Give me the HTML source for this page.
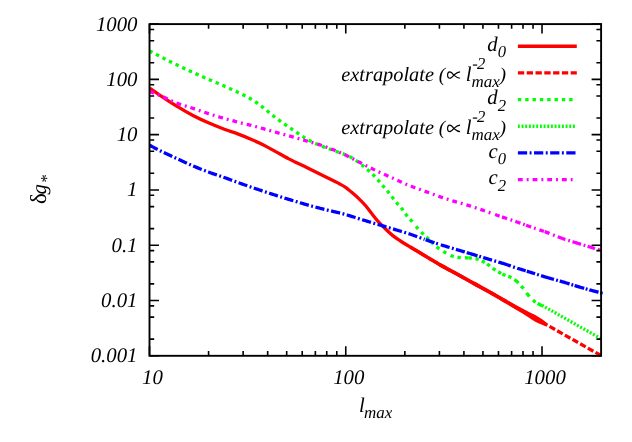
<!DOCTYPE html>
<html><head><meta charset="utf-8"><title>plot</title>
<style>html,body{margin:0;padding:0;background:#fff;}svg{display:block;will-change:transform;}text{font-family:"Liberation Serif",serif;font-style:italic;fill:#000;text-rendering:geometricPrecision;}.up{font-style:normal;}</style></head><body>
<svg width="632" height="442" viewBox="0 0 632 442">
<clipPath id="cp"><rect x="149.50" y="24.10" width="453.50" height="332.70"/></clipPath>
<g clip-path="url(#cp)" stroke-linecap="butt" stroke-linejoin="round">
<path d="M149.50,88.00 C151.38,89.30 156.27,92.78 160.80,95.80 C165.33,98.82 171.42,102.87 176.70,106.10 C181.98,109.33 187.22,112.42 192.50,115.20 C197.78,117.98 202.98,120.42 208.40,122.80 C213.82,125.18 220.12,127.65 225.00,129.50 C229.88,131.35 233.48,132.32 237.70,133.90 C241.92,135.48 246.08,137.20 250.30,139.00 C254.52,140.80 258.78,142.60 263.00,144.70 C267.22,146.80 271.38,149.28 275.60,151.60 C279.82,153.92 285.07,156.88 288.30,158.60 C291.53,160.32 291.77,160.33 295.00,161.90 C298.23,163.47 303.48,165.93 307.70,168.00 C311.92,170.07 316.08,172.20 320.30,174.30 C324.52,176.40 329.83,179.03 333.00,180.60 C336.17,182.17 337.20,182.58 339.30,183.70 C341.40,184.82 343.48,185.82 345.60,187.30 C347.72,188.78 349.88,190.80 352.00,192.60 C354.12,194.40 355.98,195.87 358.30,198.10 C360.62,200.33 363.63,203.38 365.90,206.00 C368.17,208.62 369.83,211.18 371.90,213.80 C373.97,216.42 376.18,219.33 378.30,221.70 C380.42,224.07 382.23,225.72 384.60,228.00 C386.97,230.28 389.85,233.23 392.50,235.40 C395.15,237.57 397.85,239.25 400.50,241.00 C403.15,242.75 405.77,244.30 408.40,245.90 C411.03,247.50 413.53,248.95 416.30,250.60 C419.07,252.25 420.92,253.37 425.00,255.80 C429.08,258.23 435.52,262.18 440.80,265.20 C446.08,268.22 451.42,270.98 456.70,273.90 C461.98,276.82 467.22,279.78 472.50,282.70 C477.78,285.62 484.43,289.20 488.40,291.40 C492.37,293.60 491.87,293.35 496.30,295.90 C500.73,298.45 509.25,303.38 515.00,306.70 C520.75,310.02 526.32,313.23 530.80,315.80 C535.28,318.37 540.05,321.05 541.90,322.10" fill="none" stroke="#ff0000" stroke-width="3.30"/>
<path d="M410.00,246.86 L410.36,247.08 L411.00,247.46 L411.65,247.85 L412.30,248.23 L412.95,248.62 L413.61,249.00 L414.27,249.39 L414.94,249.79 L415.61,250.19 L416.30,250.60 L416.97,251.00 L417.62,251.39 L418.25,251.77 L418.88,252.14 L419.51,252.52 L420.16,252.91 L420.83,253.31 L421.54,253.74 L422.31,254.19 L423.13,254.68 L424.02,255.22 L425.00,255.80 L426.07,256.44 L427.22,257.13 L428.45,257.87 L429.74,258.65 L431.07,259.45 L432.45,260.28 L433.85,261.12 L435.26,261.96 L436.68,262.80 L438.08,263.63 L439.46,264.43 L440.80,265.20 L442.12,265.95 L443.45,266.69 L444.77,267.42 L445.00,267.55" fill="none" stroke="#ff0000" stroke-width="3.45"/>
<path d="M440.00,264.74 L440.80,265.20 L442.12,265.95 L443.45,266.69 L444.77,267.42 L446.10,268.15 L447.42,268.87 L448.75,269.59 L450.08,270.30 L451.40,271.02 L452.73,271.73 L454.05,272.45 L455.38,273.17 L456.70,273.90 L458.02,274.63 L459.34,275.36 L460.65,276.10 L461.97,276.83 L463.29,277.56 L464.60,278.30 L465.91,279.04 L467.23,279.77 L468.55,280.50 L469.86,281.24 L471.18,281.97 L472.50,282.70 L473.85,283.44 L475.24,284.20 L476.66,284.98 L478.00,285.71" fill="none" stroke="#ff0000" stroke-width="3.60"/>
<path d="M474.00,283.53 L475.24,284.20 L476.66,284.98 L478.09,285.76 L479.52,286.54 L480.94,287.32 L482.34,288.08 L483.69,288.81 L484.99,289.52 L486.21,290.19 L487.35,290.82 L488.40,291.40 L489.30,291.90 L490.05,292.32 L490.68,292.67 L491.23,292.98 L491.71,293.25 L492.18,293.52 L492.65,293.79 L493.16,294.09 L493.75,294.43 L494.45,294.83 L495.29,295.32 L496.30,295.90 L497.49,296.58 L498.83,297.36 L500.28,298.20 L501.84,299.10 L503.47,300.04 L505.16,301.01 L506.00,301.50" fill="none" stroke="#ff0000" stroke-width="3.80"/>
<polygon points="499.20,299.39 505.98,303.74 515.20,309.21 522.10,313.34 527.59,316.72 532.01,319.78 535.68,322.00 539.58,323.84 542.61,325.01 545.65,326.17 547.28,323.34 544.72,321.34 542.16,319.34 538.60,316.93 534.83,314.87 529.98,312.56 524.30,309.51 517.26,305.63 507.89,300.41 500.73,296.72" fill="#ff0000"/>
<path d="M541.90,322.10 L601.10,355.60" fill="none" stroke="#ff0000" stroke-width="3.30" stroke-dasharray="6.30,2.50"/>
<path d="M149.50,50.90 L150.48,51.41 L151.71,52.06 L153.16,52.82 L154.78,53.67 L156.55,54.60 L158.41,55.58 L160.35,56.59 L162.31,57.61 L164.26,58.63 L166.17,59.61 L167.99,60.54 L169.70,61.40 L171.32,62.21 L172.91,63.00 L174.49,63.77 L176.05,64.53 L177.61,65.28 L179.16,66.03 L180.71,66.77 L182.27,67.50 L183.84,68.24 L185.44,68.99 L187.05,69.74 L188.70,70.50 L190.37,71.27 L192.07,72.04 L193.79,72.82 L195.52,73.59 L197.27,74.37 L199.02,75.15 L200.79,75.93 L202.56,76.71 L204.32,77.48 L206.09,78.26 L207.85,79.03 L209.60,79.80 L211.35,80.56 L213.12,81.33 L214.89,82.08 L216.67,82.84 L218.44,83.60 L220.22,84.35 L221.99,85.10 L223.74,85.86 L225.49,86.62 L227.21,87.37 L228.92,88.14 L230.60,88.90 L232.28,89.67 L233.97,90.46 L235.67,91.25 L237.37,92.05 L239.05,92.85 L240.71,93.64 L242.34,94.44 L243.92,95.22 L245.45,95.99 L246.91,96.75 L248.30,97.48 L249.60,98.20 L250.79,98.88 L251.86,99.51 L252.84,100.10 L253.74,100.67 L254.58,101.23 L255.39,101.79 L256.20,102.36 L257.01,102.95 L257.85,103.58 L258.75,104.26 L259.73,104.99 L260.80,105.80 L261.96,106.68 L263.18,107.64 L264.45,108.65 L265.76,109.71 L267.10,110.81 L268.46,111.93 L269.84,113.06 L271.23,114.20 L272.62,115.32 L274.00,116.42 L275.36,117.48 L276.70,118.50 L278.02,119.48 L279.34,120.45 L280.65,121.41 L281.97,122.35 L283.29,123.28 L284.60,124.20 L285.91,125.11 L287.23,126.02 L288.55,126.92 L289.86,127.81 L291.18,128.71 L292.50,129.60 L293.82,130.50 L295.15,131.40 L296.47,132.30 L297.80,133.21 L299.12,134.11 L300.45,134.99 L301.78,135.87 L303.10,136.73 L304.43,137.56 L305.75,138.37 L307.08,139.15 L308.40,139.90 L309.70,140.61 L310.98,141.28 L312.24,141.91 L313.49,142.52 L314.74,143.11 L315.99,143.68 L317.27,144.24 L318.57,144.80 L319.90,145.36 L321.28,145.92 L322.71,146.50 L324.20,147.10 L325.81,147.73 L327.56,148.38 L329.42,149.06 L331.36,149.75 L333.32,150.44 L335.29,151.12 L337.21,151.78 L339.07,152.42 L340.81,153.02 L342.40,153.57 L343.81,154.07 L345.00,154.50 L345.96,154.85 L346.71,155.13 L347.29,155.35 L347.73,155.52 L348.06,155.65 L348.31,155.76 L348.50,155.86 L348.68,155.96 L348.87,156.07 L349.10,156.20 L349.40,156.38 L349.80,156.60 L350.27,156.86 L350.76,157.15 L351.27,157.45 L351.79,157.76 L352.32,158.09 L352.86,158.43 L353.40,158.78 L353.94,159.14 L354.49,159.50 L355.03,159.87 L355.57,160.23 L356.10,160.60 L356.63,160.97 L357.16,161.35 L357.69,161.75 L358.23,162.14 L358.76,162.55 L359.29,162.96 L359.82,163.37 L360.35,163.78 L360.87,164.19 L361.39,164.60 L361.90,165.00 L362.40,165.40 L362.89,165.79 L363.38,166.18 L363.85,166.57 L364.32,166.96 L364.79,167.35 L365.25,167.73 L365.71,168.12 L366.17,168.51 L366.62,168.90 L367.08,169.29 L367.54,169.69 L368.00,170.10 L368.46,170.51 L368.93,170.93 L369.40,171.34 L369.87,171.77 L370.33,172.19 L370.80,172.62 L371.26,173.05 L371.72,173.48 L372.18,173.91 L372.62,174.34 L373.07,174.77 L373.50,175.20 L373.92,175.63 L374.34,176.06 L374.75,176.48 L375.16,176.91 L375.55,177.34 L375.95,177.77 L376.34,178.20 L376.73,178.63 L377.12,179.07 L377.51,179.51 L377.91,179.95 L378.30,180.40 L378.69,180.85 L379.09,181.31 L379.48,181.77 L379.87,182.24 L380.26,182.71 L380.65,183.18 L381.04,183.65 L381.43,184.13 L381.82,184.60 L382.21,185.07 L382.61,185.54 L383.00,186.00 L383.40,186.46 L383.80,186.92 L384.20,187.37 L384.60,187.82 L385.00,188.27 L385.40,188.72 L385.80,189.18 L386.20,189.63 L386.60,190.09 L387.00,190.56 L387.40,191.02 L387.80,191.50 L388.19,191.98 L388.59,192.47 L388.98,192.96 L389.37,193.46 L389.76,193.96 L390.15,194.47 L390.54,194.97 L390.93,195.48 L391.32,195.99 L391.71,196.49 L392.11,197.00 L392.50,197.50 L392.90,198.00 L393.29,198.51 L393.69,199.01 L394.09,199.52 L394.49,200.03 L394.89,200.53 L395.29,201.04 L395.70,201.54 L396.10,202.04 L396.50,202.53 L396.90,203.02 L397.30,203.50 L397.70,203.98 L398.11,204.44 L398.52,204.91 L398.93,205.37 L399.35,205.82 L399.76,206.28 L400.16,206.73 L400.57,207.18 L400.96,207.63 L401.35,208.08 L401.73,208.54 L402.10,209.00 L402.45,209.46 L402.78,209.92 L403.10,210.38 L403.40,210.83 L403.70,211.29 L404.00,211.75 L404.30,212.21 L404.61,212.68 L404.93,213.15 L405.26,213.62 L405.62,214.11 L406.00,214.60 L406.41,215.10 L406.84,215.60 L407.28,216.11 L407.74,216.63 L408.22,217.15 L408.70,217.68 L409.19,218.20 L409.68,218.74 L410.17,219.27 L410.65,219.81 L411.13,220.36 L411.60,220.90 L412.06,221.45 L412.53,222.02 L413.00,222.60 L413.47,223.19 L413.93,223.78 L414.20,224.12" fill="none" stroke="#00ff00" stroke-width="3.30" stroke-dasharray="3.36,3.97"/>
<path d="M416.00,226.39 L416.23,226.66 L416.67,227.19 L417.10,227.70 L417.52,228.18 L417.93,228.65 L418.20,228.94 M421.20,232.09 L421.48,232.38 L421.90,232.80 L422.34,233.23 L422.78,233.66 L423.24,234.10 L423.60,234.44 M426.30,236.95 L426.50,237.14 L426.95,237.57 L427.40,238.00 L427.84,238.43 L428.27,238.86 L428.69,239.29 L428.70,239.30 M430.98,241.62 L431.21,241.85 L431.63,242.27 L432.06,242.69 L432.50,243.10 L432.94,243.51 L433.38,243.92 L433.42,243.96 M436.65,246.84 L437.00,247.13 L437.49,247.51 L438.00,247.90 L438.52,248.28 L439.05,248.67 L439.35,248.87 M443.34,251.44 L443.63,251.62 L444.22,251.96 L444.80,252.30 L445.38,252.63 L445.96,252.97 L446.26,253.14 M450.61,255.38 L450.71,255.43 L451.30,255.67 L451.90,255.90 L452.49,256.11 L453.09,256.30 L453.68,256.47 L453.79,256.50 M457.43,257.27 L457.86,257.33 L458.48,257.42 L459.10,257.50 L459.75,257.57 L460.43,257.63 L460.77,257.65 M464.92,257.76 L465.34,257.76 L465.95,257.77 L466.50,257.78 L467.00,257.80 L467.42,257.82 L467.76,257.83 L468.04,257.84 L468.27,257.84 L468.28,257.84 M468.53,257.85 L468.65,257.85 L468.83,257.86 L469.02,257.87 L469.24,257.89 L469.50,257.92 L469.81,257.95 L470.20,258.00 L470.66,258.06 L471.17,258.11 L471.72,258.17 L471.87,258.19 M475.48,258.69 L475.49,258.69 L476.12,258.81 L476.72,258.95 L477.30,259.10 L477.86,259.27 L478.41,259.45 L478.72,259.57 M481.81,260.89 L482.15,261.06 L482.65,261.31 L483.13,261.56 L483.60,261.80 L484.05,262.04 L484.48,262.28 L484.79,262.46 M487.14,264.00 L487.19,264.04 L487.58,264.32 L487.98,264.60 L488.40,264.90 L488.83,265.21 L489.28,265.55 L489.72,265.89 L489.86,266.00 M492.71,268.24 L492.97,268.43 L493.44,268.77 L493.90,269.10 L494.37,269.41 L494.84,269.72 L495.31,270.03 L495.49,270.14 M498.23,271.78 L498.62,272.00 L499.06,272.25 L499.50,272.50 L499.92,272.74 L500.32,272.96 L500.70,273.17 L501.07,273.37 L501.17,273.43 M502.46,274.10 L502.54,274.14 L502.93,274.32 L503.33,274.51 L503.75,274.70 L504.20,274.90 L504.68,275.10 L505.18,275.29 L505.54,275.42 M508.25,276.34 L508.47,276.42 L509.02,276.62 L509.57,276.84 L510.09,277.06 L510.60,277.30 L511.09,277.55 L511.35,277.68 M514.40,279.51 L514.80,279.79 L515.23,280.11 L515.67,280.45 L516.10,280.80 L516.53,281.18 L516.96,281.58 L517.39,282.01 L517.81,282.45 L518.24,282.91 L518.40,283.09 M521.08,286.09 L521.21,286.22 L521.50,286.51 L521.76,286.76 L522.01,286.99 L522.24,287.21 L522.47,287.43 L522.70,287.64 L522.93,287.87 L523.17,288.13 L523.42,288.41 L523.52,288.52 M526.60,292.84 L526.87,293.24 L527.27,293.80 L527.68,294.35 L528.09,294.89 L528.50,295.40 L528.92,295.90 L529.35,296.39 L529.40,296.45 M532.96,300.12 L533.02,300.17 L533.51,300.60 L534.00,301.00 L534.52,301.40 L535.07,301.79 L535.64,302.17 M537.60,303.36 L538.04,303.61 L538.60,303.92 L539.12,304.21 L539.61,304.47 L540.04,304.70 L540.40,304.90 L540.70,305.06 L540.95,305.17 L541.15,305.26 L541.32,305.31 L541.45,305.34 L541.55,305.34 L541.63,305.34 L541.69,305.33 L541.75,305.31 L541.79,305.30 L541.84,305.29 L541.90,305.30" fill="none" stroke="#00ff00" stroke-width="3.30"/>
<path d="M541.90,305.30 L601.10,338.70" fill="none" stroke="#00ff00" stroke-width="3.30" stroke-dasharray="1.90,1.77"/>
<path d="M149.50,145.20 L150.03,145.48 L150.68,145.82 L151.42,146.22 L152.26,146.67 L153.17,147.16 L154.16,147.69 L155.19,148.24 L156.27,148.80 L157.39,149.38 L158.52,149.96 L159.66,150.54 L160.80,151.10 L161.96,151.66 L163.18,152.25 L164.45,152.85 L165.76,153.46 L167.10,154.09 L168.47,154.72 L169.85,155.35 L171.24,155.99 L172.62,156.63 L174.00,157.26 L175.36,157.89 L176.70,158.50 L178.02,159.11 L179.34,159.72 L180.65,160.34 L181.97,160.95 L183.29,161.56 L184.60,162.17 L185.91,162.77 L187.23,163.37 L188.55,163.97 L189.86,164.55 L191.18,165.13 L192.50,165.70 L193.82,166.26 L195.15,166.81 L196.47,167.36 L197.80,167.90 L199.12,168.43 L200.45,168.96 L201.78,169.48 L203.10,169.99 L204.43,170.50 L205.75,171.01 L207.08,171.51 L208.40,172.00 L209.70,172.48 L210.98,172.94 L212.24,173.38 L213.49,173.82 L214.74,174.25 L215.99,174.68 L217.27,175.11 L218.57,175.55 L219.90,176.00 L221.28,176.48 L222.71,176.97 L224.20,177.50 L225.77,178.06 L227.44,178.66 L229.17,179.28 L230.95,179.93 L232.77,180.59 L234.60,181.26 L236.43,181.92 L238.25,182.58 L240.03,183.23 L241.76,183.85 L243.43,184.44 L245.00,185.00 L246.49,185.52 L247.92,186.02 L249.30,186.50 L250.63,186.96 L251.93,187.41 L253.21,187.84 L254.46,188.27 L255.71,188.69 L256.96,189.11 L258.22,189.54 L259.50,189.96 L260.80,190.40 L262.12,190.84 L263.45,191.28 L264.77,191.72 L266.10,192.16 L267.42,192.60 L268.75,193.03 L270.08,193.46 L271.40,193.90 L272.73,194.33 L274.05,194.75 L275.38,195.18 L276.70,195.60 L278.02,196.02 L279.34,196.44 L280.65,196.85 L281.97,197.26 L283.29,197.67 L284.60,198.08 L285.91,198.49 L287.23,198.89 L288.55,199.30 L289.86,199.70 L291.18,200.10 L292.50,200.50 L293.82,200.90 L295.15,201.30 L296.47,201.70 L297.80,202.10 L299.12,202.50 L300.45,202.90 L301.78,203.29 L303.10,203.69 L304.43,204.07 L305.75,204.45 L307.08,204.83 L308.40,205.20 L309.71,205.56 L311.00,205.91 L312.28,206.26 L313.55,206.59 L314.82,206.93 L316.10,207.26 L317.39,207.59 L318.69,207.92 L320.02,208.25 L321.38,208.59 L322.77,208.94 L324.20,209.30 L325.68,209.66 L327.21,210.03 L328.78,210.40 L330.38,210.77 L332.01,211.14 L333.64,211.52 L335.29,211.90 L336.93,212.29 L338.56,212.68 L340.17,213.08 L341.75,213.49 L343.30,213.90 L344.82,214.32 L346.33,214.76 L347.82,215.21 L349.31,215.66 L350.79,216.12 L352.25,216.59 L353.70,217.05 L355.14,217.51 L356.58,217.97 L357.99,218.43 L359.40,218.87 L360.80,219.30 L362.18,219.72 L363.54,220.14 L364.89,220.54 L366.22,220.95 L367.54,221.35 L368.86,221.74 L370.16,222.14 L371.47,222.53 L372.77,222.92 L374.07,223.31 L375.38,223.71 L376.70,224.10 L378.02,224.49 L379.34,224.89 L380.65,225.28 L381.97,225.67 L383.29,226.06 L384.60,226.45 L385.91,226.84 L387.23,227.23 L388.55,227.62 L389.86,228.01 L391.18,228.41 L392.50,228.80 L393.82,229.19 L395.14,229.58 L396.45,229.97 L397.77,230.35 L399.08,230.74 L400.40,231.12 L401.72,231.52 L403.04,231.91 L404.37,232.32 L405.71,232.74 L407.05,233.16 L408.40,233.60 L409.76,234.06 L411.14,234.53 L412.52,235.01 L413.91,235.51 L415.31,236.01 L416.71,236.52 L418.10,237.03 L419.50,237.54 L420.89,238.04 L422.27,238.54 L423.64,239.03 L424.60,239.36" fill="none" stroke="#0000ff" stroke-width="3.30" stroke-dasharray="9.23,2.50,1.90,2.50"/>
<path d="M425.60,239.71 L426.34,239.96 L427.68,240.42 L429.00,240.88 L430.32,241.33 L431.63,241.78 L432.94,242.22 L434.25,242.66 L434.40,242.71 M436.10,243.27 L436.86,243.52 L437.90,243.86 M440.80,244.80 L442.12,245.22 L443.45,245.63 L444.77,246.04 L446.10,246.44 L447.42,246.84 L448.75,247.24 L449.60,247.49 M451.90,248.17 L452.73,248.42 L453.70,248.71 M455.90,249.36 L456.70,249.60 L458.02,249.99 L459.34,250.39 L460.65,250.78 L461.97,251.17 L463.29,251.56 L464.60,251.95 L464.80,252.01 M466.70,252.57 L467.23,252.73 L468.55,253.12 L469.86,253.51 L471.18,253.91 L472.50,254.30 L473.82,254.70 L475.15,255.10 L476.47,255.50 L477.50,255.81 M479.20,256.32 L480.45,256.70 L481.00,256.87 M483.20,257.53 L484.43,257.90 L485.75,258.30 L487.08,258.70 L488.40,259.10 L489.74,259.50 L491.10,259.90 L492.00,260.17 M494.30,260.84 L495.24,261.12 L496.10,261.37 M498.40,262.04 L499.31,262.31 L500.60,262.70 L501.86,263.08 L503.06,263.44 L504.20,263.80 L505.26,264.14 L506.23,264.46 L507.13,264.77 L507.99,265.06 L508.80,265.35 L509.60,265.64 L510.40,265.92 L510.80,266.07 M513.10,266.87 L513.94,267.15 L514.90,267.47 M517.20,268.20 L517.34,268.25 L518.60,268.64 L519.89,269.04 L521.22,269.45 L522.58,269.87 L523.96,270.29 L525.34,270.71 L525.70,270.83 M526.80,271.16 L528.10,271.56 L529.46,271.98 L530.80,272.40 L532.12,272.82 L533.45,273.23 L534.77,273.66 L535.10,273.76 M537.10,274.40 L537.42,274.51 L538.75,274.93 L538.90,274.98 M541.00,275.65 L541.40,275.77 L542.73,276.19 L544.05,276.60 L545.38,277.00 L546.70,277.40 L548.02,277.79 L549.34,278.16 L550.65,278.53 L551.97,278.89 L553.29,279.25 L554.00,279.44 M556.10,280.01 L557.23,280.32 L557.90,280.50 M559.70,281.00 L559.86,281.04 L561.18,281.42 L562.50,281.80 L563.82,282.19 L565.15,282.59 L566.47,283.00 L567.80,283.41 L569.12,283.83 L569.60,283.98 M571.40,284.55 L571.78,284.67 L573.10,285.09 L573.20,285.12 M574.60,285.55 L575.75,285.91 L577.08,286.31 L578.40,286.70 L579.74,287.09 L581.11,287.48 L582.51,287.88 L583.91,288.27 L584.20,288.35 M585.70,288.76 L586.71,289.04 L587.50,289.26 M589.40,289.78 L589.42,289.79 L590.71,290.14 L591.94,290.48 L593.11,290.80 L594.20,291.10 L595.23,291.39 L596.23,291.67 L597.20,291.94 L598.13,292.20 L598.50,292.30 M600.20,292.78 L600.61,292.89 L601.33,293.09 L601.98,293.27 L602.56,293.44 L602.60,293.45" fill="none" stroke="#0000ff" stroke-width="3.30"/>
<path d="M149.50,91.50 L150.03,91.70 L150.68,91.93 L151.42,92.20 L152.26,92.51 L153.17,92.84 L154.16,93.20 L155.19,93.59 L156.27,93.99 L157.39,94.42 L158.52,94.87 L159.66,95.33 L160.80,95.80 L161.96,96.30 L163.18,96.86 L164.45,97.44 L165.76,98.06 L167.10,98.70 L168.47,99.34 L169.85,99.99 L171.24,100.64 L172.62,101.27 L174.00,101.88 L175.36,102.46 L176.70,103.00 L178.02,103.50 L179.34,103.98 L180.65,104.44 L181.97,104.87 L183.29,105.30 L184.60,105.71 L185.91,106.12 L187.23,106.53 L188.55,106.93 L189.86,107.34 L191.18,107.77 L192.50,108.20 L193.82,108.64 L195.15,109.10 L196.47,109.55 L197.80,110.01 L199.12,110.47 L200.45,110.92 L201.78,111.38 L203.10,111.84 L204.43,112.29 L205.75,112.73 L207.08,113.17 L208.40,113.60 L209.71,114.02 L211.02,114.44 L212.32,114.84 L213.61,115.25 L214.90,115.65 L216.20,116.04 L217.50,116.44 L218.81,116.83 L220.13,117.22 L221.47,117.61 L222.82,118.01 L224.20,118.40 L225.64,118.81 L227.15,119.23 L228.73,119.66 L230.34,120.10 L231.97,120.53 L233.58,120.96 L235.16,121.38 L236.68,121.78 L238.11,122.16 L239.45,122.51 L240.65,122.82 L241.70,123.10 L242.56,123.33 L243.24,123.50 L243.77,123.63 L244.19,123.73 L244.52,123.81 L244.81,123.88 L245.08,123.93 L245.37,124.00 L245.71,124.08 L246.14,124.18 L246.69,124.32 L247.40,124.50 L248.24,124.71 L249.16,124.95 L250.15,125.20 L251.20,125.47 L252.31,125.76 L253.46,126.06 L254.65,126.36 L255.86,126.68 L257.09,127.01 L258.33,127.33 L259.57,127.67 L260.80,128.00 L262.04,128.34 L263.31,128.69 L264.60,129.06 L265.92,129.43 L267.25,129.81 L268.60,130.20 L269.96,130.59 L271.31,130.98 L272.67,131.37 L274.03,131.75 L275.37,132.13 L276.70,132.50 L278.02,132.86 L279.34,133.22 L280.65,133.58 L281.97,133.93 L283.29,134.29 L284.60,134.64 L285.91,134.99 L287.23,135.34 L288.55,135.70 L289.86,136.06 L291.18,136.43 L292.50,136.80 L293.82,137.18 L295.15,137.56 L296.47,137.94 L297.80,138.33 L299.12,138.72 L300.45,139.12 L301.78,139.51 L303.10,139.91 L304.43,140.31 L305.75,140.71 L307.08,141.10 L308.40,141.50 L309.70,141.88 L310.98,142.25 L312.24,142.61 L313.49,142.96 L314.74,143.31 L315.99,143.66 L317.27,144.03 L318.57,144.42 L319.90,144.84 L321.28,145.28 L322.71,145.77 L324.20,146.30 L325.77,146.88 L327.44,147.51 L329.17,148.17 L330.95,148.87 L332.77,149.59 L334.60,150.34 L336.43,151.09 L338.25,151.85 L340.03,152.61 L341.76,153.36 L343.43,154.09 L345.00,154.80 L346.49,155.49 L347.92,156.19 L349.30,156.88 L350.63,157.57 L351.93,158.25 L353.21,158.94 L354.46,159.62 L355.71,160.30 L356.96,160.98 L358.22,161.65 L359.50,162.33 L360.80,163.00 L362.12,163.67 L363.45,164.34 L364.77,165.01 L366.10,165.69 L367.42,166.35 L368.75,167.02 L370.08,167.68 L371.40,168.34 L372.73,168.99 L374.05,169.63 L375.38,170.27 L376.70,170.90 L378.02,171.52 L379.34,172.13 L380.65,172.73 L381.97,173.32 L383.29,173.91 L384.60,174.49 L385.91,175.08 L387.23,175.66 L388.55,176.24 L389.86,176.82 L391.18,177.41 L392.50,178.00 L393.82,178.60 L395.15,179.21 L396.47,179.83 L397.80,180.44 L399.12,181.06 L400.45,181.68 L401.78,182.29 L403.10,182.90 L404.43,183.50 L405.75,184.08 L407.08,184.65 L408.40,185.20 L409.73,185.74 L411.07,186.26 L412.42,186.77 L413.77,187.27 L415.12,187.77 L416.47,188.25 L417.81,188.73 L419.13,189.19 L420.44,189.65 L421.72,190.11 L422.97,190.56 L424.20,191.00 L425.39,191.44 L426.55,191.86 L427.68,192.28 L428.79,192.69 L429.87,193.09 L430.95,193.48 L432.02,193.87 L433.08,194.26 L434.15,194.64 L435.22,195.03 L436.30,195.41 L437.40,195.80 L438.50,196.19 L439.59,196.57 L440.68,196.94 L441.76,197.32 L442.84,197.69 L443.93,198.06 L445.03,198.43 L446.14,198.80 L447.27,199.18 L448.42,199.55 L449.60,199.92 L450.80,200.30 L452.04,200.68 L453.31,201.05 L454.60,201.43 L455.92,201.80 L457.25,202.18 L458.60,202.56 L459.96,202.94 L461.31,203.32 L462.67,203.71 L464.03,204.10 L465.37,204.50 L466.70,204.90 L468.02,205.31 L469.34,205.73 L470.65,206.15 L471.97,206.57 L473.29,207.00 L474.60,207.44 L475.91,207.87 L477.23,208.31 L478.55,208.76 L479.86,209.20 L481.18,209.65 L482.50,210.10 L483.82,210.55 L485.14,211.01 L486.45,211.47 L487.77,211.94 L489.08,212.40 L490.40,212.88 L491.72,213.35 L493.00,213.80" fill="none" stroke="#ff00ff" stroke-width="3.30" stroke-dasharray="4.83,3.97,1.90,3.97"/>
<path d="M495.10,214.55 L495.71,214.76 L497.05,215.23 L498.40,215.70 L499.60,216.11 M502.00,216.92 L502.52,217.10 L503.91,217.57 L505.31,218.03 L506.71,218.50 L507.10,218.63 M510.50,219.77 L510.89,219.90 L512.20,220.34 M515.30,221.40 L516.34,221.77 L517.68,222.23 L519.00,222.70 L520.32,223.17 L520.40,223.20 M523.10,224.16 L524.25,224.57 L524.80,224.77 M526.10,225.24 L526.86,225.51 L528.17,225.97 L529.48,226.44 L530.80,226.90 L531.10,227.00 M534.00,228.00 L534.77,228.27 L535.70,228.58 M539.40,229.84 L540.08,230.07 L541.40,230.53 L542.73,230.99 L543.90,231.40 M544.70,231.68 L545.38,231.92 L546.70,232.40 L548.02,232.89 L549.34,233.39 L549.50,233.46 M553.00,234.84 L553.29,234.95 L554.60,235.48 L554.80,235.56 M557.70,236.71 L558.55,237.04 L559.86,237.54 L561.18,238.03 L562.50,238.50 L563.82,238.96 L565.15,239.40 L565.40,239.48 M568.20,240.38 L569.12,240.67 L569.90,240.91 M572.50,241.71 L573.10,241.89 L574.43,242.29 L575.75,242.69 L577.08,243.09 L578.40,243.50 L579.75,243.92 L581.00,244.30 M583.60,245.09 L584.00,245.21 L585.30,245.60 M587.60,246.30 L588.25,246.49 L589.60,246.90 L590.88,247.29 L592.08,247.65 L593.20,247.99 L594.20,248.30 L595.00,248.55 M597.80,249.43 L598.06,249.51 L598.64,249.70 L599.16,249.87 L599.60,250.01" fill="none" stroke="#ff00ff" stroke-width="3.30"/>
</g>
<path d="M149.50,355.80 h9.50 M601.10,355.80 h-9.50 M149.50,339.16 h4.70 M601.10,339.16 h-4.70 M149.50,317.16 h4.70 M601.10,317.16 h-4.70 M149.50,305.87 h4.70 M601.10,305.87 h-4.70 M149.50,300.52 h9.50 M601.10,300.52 h-9.50 M149.50,283.87 h4.70 M601.10,283.87 h-4.70 M149.50,261.88 h4.70 M601.10,261.88 h-4.70 M149.50,250.59 h4.70 M601.10,250.59 h-4.70 M149.50,245.23 h9.50 M601.10,245.23 h-9.50 M149.50,228.59 h4.70 M601.10,228.59 h-4.70 M149.50,206.59 h4.70 M601.10,206.59 h-4.70 M149.50,195.31 h4.70 M601.10,195.31 h-4.70 M149.50,189.95 h9.50 M601.10,189.95 h-9.50 M149.50,173.31 h4.70 M601.10,173.31 h-4.70 M149.50,151.31 h4.70 M601.10,151.31 h-4.70 M149.50,140.02 h4.70 M601.10,140.02 h-4.70 M149.50,134.67 h9.50 M601.10,134.67 h-9.50 M149.50,118.02 h4.70 M601.10,118.02 h-4.70 M149.50,96.03 h4.70 M601.10,96.03 h-4.70 M149.50,84.74 h4.70 M601.10,84.74 h-4.70 M149.50,79.38 h9.50 M601.10,79.38 h-9.50 M149.50,62.74 h4.70 M601.10,62.74 h-4.70 M149.50,40.74 h4.70 M601.10,40.74 h-4.70 M149.50,29.46 h4.70 M601.10,29.46 h-4.70 M149.50,24.10 h9.50 M601.10,24.10 h-9.50 M149.50,355.80 v-9.50 M149.50,24.10 v9.50 M208.58,355.80 v-4.70 M208.58,24.10 v4.70 M243.14,355.80 v-4.70 M243.14,24.10 v4.70 M267.66,355.80 v-4.70 M267.66,24.10 v4.70 M286.68,355.80 v-4.70 M286.68,24.10 v4.70 M302.22,355.80 v-4.70 M302.22,24.10 v4.70 M315.36,355.80 v-4.70 M315.36,24.10 v4.70 M326.74,355.80 v-4.70 M326.74,24.10 v4.70 M336.78,355.80 v-4.70 M336.78,24.10 v4.70 M345.76,355.80 v-9.50 M345.76,24.10 v9.50 M404.84,355.80 v-4.70 M404.84,24.10 v4.70 M439.40,355.80 v-4.70 M439.40,24.10 v4.70 M463.92,355.80 v-4.70 M463.92,24.10 v4.70 M482.94,355.80 v-4.70 M482.94,24.10 v4.70 M498.48,355.80 v-4.70 M498.48,24.10 v4.70 M511.62,355.80 v-4.70 M511.62,24.10 v4.70 M523.00,355.80 v-4.70 M523.00,24.10 v4.70 M533.04,355.80 v-4.70 M533.04,24.10 v4.70 M542.02,355.80 v-9.50 M542.02,24.10 v9.50" fill="none" stroke="#000" stroke-width="1.60"/>
<rect x="149.50" y="24.10" width="451.60" height="331.70" fill="none" stroke="#000" stroke-width="1.90"/>
<text x="137.50" y="30.60" font-size="20.80" text-anchor="end">1000</text>
<text x="137.50" y="85.88" font-size="20.80" text-anchor="end">100</text>
<text x="137.50" y="141.17" font-size="20.80" text-anchor="end">10</text>
<text x="137.50" y="196.45" font-size="20.80" text-anchor="end">1</text>
<text x="137.50" y="251.73" font-size="20.80" text-anchor="end">0.1</text>
<text x="137.50" y="307.02" font-size="20.80" text-anchor="end">0.01</text>
<text x="137.50" y="362.30" font-size="20.80" text-anchor="end">0.001</text>
<text x="152.50" y="383.50" font-size="20.80" text-anchor="middle">10</text>
<text x="348.76" y="383.50" font-size="20.80" text-anchor="middle">100</text>
<text x="545.02" y="383.50" font-size="20.80" text-anchor="middle">1000</text>
<text x="359.0" y="412.2" font-size="20.80">l<tspan font-size="16.97" dx="-0.8" dy="5.50">max</tspan></text>
<g transform="translate(45.8,203.9) rotate(-90)"><text x="0" y="0" font-size="20.80"><tspan class="up" font-size="22.88">δ</tspan><tspan dx="-1.3">g</tspan><tspan font-size="16.64" dx="0.8" dy="6.24">*</tspan></text></g>
<text x="506.00" y="50.95" font-size="20.80" text-anchor="end">d<tspan font-size="16.64" dy="6.24">0</tspan></text>
<text x="505.90" y="80.62" font-size="19.55" text-anchor="end">)</text><text x="465.80" y="80.92" font-size="20.80">l</text><text x="471.60" y="86.95" font-size="16.97">max</text><text x="472.30" y="69.06" font-size="16.64">-<tspan dx="-0.9">2</tspan></text><path d="M460.08,71.83 C457.33,71.83 455.34,73.76 453.84,75.05 C452.34,76.99 451.09,78.28 449.72,78.28 C446.85,78.28 446.85,71.83 449.72,71.83 C451.09,71.83 452.34,73.12 453.84,75.05 C455.34,76.34 457.33,78.28 460.08,78.28" fill="none" stroke="#000" stroke-width="1.14"/><text x="445.30" y="80.62" font-size="19.55" text-anchor="end">(</text><text x="434.00" y="80.92" font-size="20.38" text-anchor="end">extrapolate</text>
<text x="506.00" y="104.29" font-size="20.80" text-anchor="end">d<tspan font-size="16.64" dy="6.24">2</tspan></text>
<text x="505.90" y="133.96" font-size="19.55" text-anchor="end">)</text><text x="465.80" y="134.26" font-size="20.80">l</text><text x="471.60" y="140.29" font-size="16.97">max</text><text x="472.30" y="122.40" font-size="16.64">-<tspan dx="-0.9">2</tspan></text><path d="M460.08,125.17 C457.33,125.17 455.34,127.10 453.84,128.39 C452.34,130.33 451.09,131.62 449.72,131.62 C446.85,131.62 446.85,125.17 449.72,125.17 C451.09,125.17 452.34,126.46 453.84,128.39 C455.34,129.68 457.33,131.62 460.08,131.62" fill="none" stroke="#000" stroke-width="1.14"/><text x="445.30" y="133.96" font-size="19.55" text-anchor="end">(</text><text x="434.00" y="134.26" font-size="20.38" text-anchor="end">extrapolate</text>
<text x="506.00" y="157.63" font-size="20.80" text-anchor="end">c<tspan font-size="16.64" dy="6.24">0</tspan></text>
<text x="506.00" y="184.30" font-size="20.80" text-anchor="end">c<tspan font-size="16.64" dy="6.24">2</tspan></text>
<path d="M517.90,46.25 H576.80" fill="none" stroke="#ff0000" stroke-width="3.30"/>
<path d="M517.90,72.92 H576.80" fill="none" stroke="#ff0000" stroke-width="3.30" stroke-dasharray="6.30,2.50"/>
<path d="M517.90,99.59 H575.50" fill="none" stroke="#00ff00" stroke-width="3.30" stroke-dasharray="3.36,3.97"/>
<path d="M517.90,126.26 H575.50" fill="none" stroke="#00ff00" stroke-width="3.30" stroke-dasharray="1.90,1.77"/>
<path d="M517.90,152.93 H576.80" fill="none" stroke="#0000ff" stroke-width="3.30" stroke-dasharray="9.23,2.50,1.90,2.50"/>
<path d="M517.90,179.60 H575.50" fill="none" stroke="#ff00ff" stroke-width="3.30" stroke-dasharray="4.83,3.97,1.90,3.97"/>
</svg></body></html>
